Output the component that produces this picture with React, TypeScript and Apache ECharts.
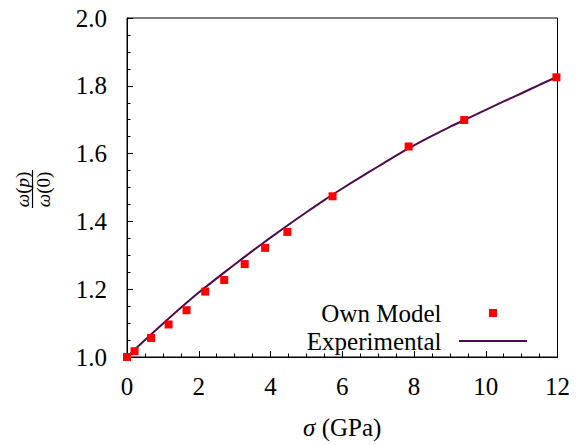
import React, { useEffect, useRef } from "react";
import * as echarts from "echarts";

// Own Model points: sigma (GPa) and omega(p)/omega(0)
const MODEL_SIGMA = [0, 0.21, 0.67, 1.16, 1.66, 2.18, 2.71, 3.28, 3.85, 4.47, 5.73, 7.85, 9.4, 11.97];
const MODEL_RATIO = [1.0, 1.017, 1.056, 1.096, 1.138, 1.193, 1.227, 1.274, 1.322, 1.369, 1.474, 1.621, 1.699, 1.825];

// Experimental curve
const EXP_SIGMA = [0, 0.5, 1, 1.5, 2, 2.5, 3, 3.5, 4, 4.5, 5, 5.5, 6, 6.5, 7, 7.5, 8, 8.5, 9, 9.5, 10, 10.5, 11, 11.5, 12];
const EXP_RATIO = [1.0, 1.05, 1.098, 1.145, 1.19, 1.232, 1.273, 1.313, 1.352, 1.39, 1.427, 1.463, 1.497, 1.53, 1.562, 1.594, 1.624, 1.652, 1.679, 1.704, 1.729, 1.754, 1.778, 1.803, 1.827];

const LEGEND_NAMES = ["Own Model", "Experimental"];

const FONT = "Times New Roman";

export default function App() {
  const ref = useRef<HTMLDivElement>(null);
  useEffect(() => {
    if (!ref.current) return;
    const chart = echarts.init(ref.current, null, { renderer: "svg" });
    const modelData = MODEL_SIGMA.map((x, i) => [x, MODEL_RATIO[i]]);
    const expData = EXP_SIGMA.map((x, i) => [x, EXP_RATIO[i]]);
    const labelStyle = { fontFamily: FONT, fontSize: 25 };
    chart.setOption({
      animation: false,
      grid: {
        left: 127,
        right: 25.5,
        top: 18,
        bottom: 85,
        show: true,
        borderColor: "#000",
        borderWidth: 1,
      },
      legend: {
        data: [
          { name: LEGEND_NAMES[0], icon: "path://M0,0H1V1H0Z" },
          { name: LEGEND_NAMES[1], icon: "path://M0,0H34V1H0Z" },
        ],
        orient: "vertical",
        align: "right",
        right: 51,
        top: 295.5,
        itemGap: 3,
        itemWidth: 68,
        itemHeight: 8,
        symbolKeepAspect: true,
        formatter: (name: string) => name + "\u00a0\u00a0",
        textStyle: { ...labelStyle, color: "#000" },
      },
      xAxis: {
        type: "value",
        min: 0,
        max: 12,
        interval: 2,
        name: "{i|σ} (GPa)",
        nameLocation: "middle",
        nameGap: 58,
        nameTextStyle: {
          ...labelStyle,
          color: "#000",
          rich: { i: { fontStyle: "italic", fontFamily: FONT, fontSize: 25, color: "#000" } },
        },
        axisLine: { show: true, lineStyle: { color: "#000", width: 1 } },
        axisTick: { show: true, inside: true, length: 6, lineStyle: { color: "#000" } },
        minorTick: { show: true, splitNumber: 4, length: 3.5, lineStyle: { color: "#000" } },
        axisLabel: { ...labelStyle, color: "#000", margin: 17 },
        splitLine: { show: false },
      },
      yAxis: {
        type: "value",
        min: 1,
        max: 2,
        interval: 0.2,
        axisLine: { show: true, lineStyle: { color: "#000", width: 1 } },
        axisTick: { show: true, inside: true, length: 6, lineStyle: { color: "#000" } },
        minorTick: { show: true, splitNumber: 4, length: 3.5, lineStyle: { color: "#000" } },
        axisLabel: {
          ...labelStyle,
          color: "#000",
          margin: 20,
          formatter: (v: number) => v.toFixed(1),
        },
        splitLine: { show: false },
      },
      graphic: [
        {
          type: "text",
          x: 22,
          y: 189.5,
          rotation: Math.PI / 2,
          style: {
            text: "{i|ω}({i|p})",
            rich: { i: { fontStyle: "italic", fontFamily: FONT, fontSize: 19, fill: "#000" } },
            fontFamily: FONT,
            fontSize: 19,
            fill: "#000",
            align: "center",
            verticalAlign: "middle",
          },
        },
        {
          type: "line",
          shape: { x1: 32.5, y1: 170, x2: 32.5, y2: 208 },
          style: { stroke: "#000", lineWidth: 1.2 },
        },
        {
          type: "text",
          x: 43.5,
          y: 189.5,
          rotation: Math.PI / 2,
          style: {
            text: "{i|ω}(0)",
            rich: { i: { fontStyle: "italic", fontFamily: FONT, fontSize: 19, fill: "#000" } },
            fontFamily: FONT,
            fontSize: 19,
            fill: "#000",
            align: "center",
            verticalAlign: "middle",
          },
        },
      ],
      series: [
        {
          name: LEGEND_NAMES[1],
          type: "line",
          data: expData,
          symbol: "none",
          showSymbol: false,
          smooth: 0.3,
          clip: false,
          lineStyle: { color: "#4b0c4b", width: 2 },
          itemStyle: { color: "#4b0c4b" },
          z: 2,
        },
        {
          name: LEGEND_NAMES[0],
          type: "scatter",
          data: modelData,
          symbol: "rect",
          symbolSize: 8,
          clip: false,
          itemStyle: { color: "#ff0000", opacity: 1 },
          z: 3,
        },
      ],
    });
    return () => chart.dispose();
  }, []);
  return <div ref={ref} style={{ width: 583, height: 445, position: "absolute", left: 0, top: 0, background: "#fff" }} />;
}
